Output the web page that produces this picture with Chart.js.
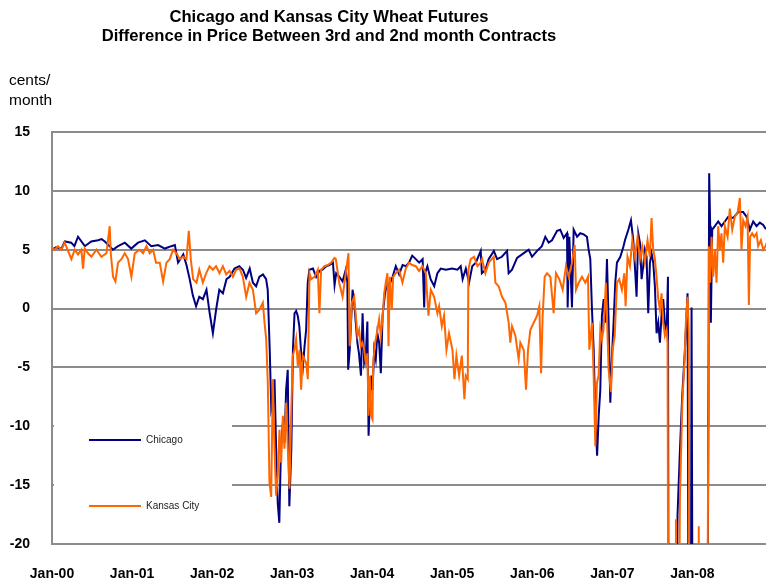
<!DOCTYPE html>
<html>
<head>
<meta charset="utf-8">
<title>Chicago and Kansas City Wheat Futures</title>
<script src="https://cdn.jsdelivr.net/npm/chart.js@4.4.1/dist/chart.umd.min.js"></script>
<style>
  html, body { margin: 0; padding: 0; background: #fff; }
  #wrap { width: 766px; height: 581px; }
</style>
</head>
<body>
<div id="wrap"><canvas id="spreadChart" width="766" height="581"></canvas></div>
<script>
// x = years since Jan 2000, y = 3rd minus 2nd month contract, cents/month
// (-30 = off the bottom of the scale)
const chicagoYears = [
  0.00, 0.05, 0.12, 0.16, 0.24, 0.28, 0.325, 0.41, 0.49, 0.575, 0.62, 0.66, 0.72, 0.76, 0.825, 0.91, 0.99,
  1.075, 1.16, 1.24, 1.325, 1.41, 1.49, 1.535, 1.575, 1.64, 1.68, 1.72, 1.76, 1.80, 1.84, 1.885, 1.93, 1.97,
  2.01, 2.05, 2.09, 2.135, 2.18, 2.22, 2.28, 2.34, 2.385, 2.425, 2.47, 2.51, 2.55, 2.59, 2.635, 2.675, 2.695,
  2.72, 2.74, 2.76, 2.78, 2.80, 2.82, 2.84, 2.86, 2.885, 2.905, 2.925, 2.945, 2.965, 2.99,
  3.01, 3.03, 3.05, 3.07, 3.09, 3.11, 3.135, 3.155, 3.175, 3.195, 3.215, 3.26, 3.30, 3.34, 3.38, 3.425, 3.465,
  3.51, 3.53, 3.55, 3.59, 3.63, 3.67, 3.69, 3.70, 3.72, 3.755, 3.775, 3.795, 3.815, 3.835, 3.86, 3.88, 3.90,
  3.92, 3.94, 3.955, 3.97, 3.99, 4.005, 4.025, 4.045, 4.065, 4.087, 4.108, 4.13, 4.16, 4.19, 4.21, 4.255,
  4.295, 4.337, 4.38, 4.42, 4.46, 4.50, 4.545, 4.587, 4.63, 4.65, 4.66, 4.69, 4.73, 4.775, 4.815, 4.857,
  4.92, 5.00, 5.065, 5.106, 5.13, 5.17, 5.21, 5.25, 5.295, 5.356, 5.37, 5.415, 5.455, 5.52, 5.56, 5.62,
  5.685, 5.705, 5.747, 5.81, 5.872, 5.955, 5.997, 6.06, 6.12, 6.163, 6.205, 6.246, 6.31, 6.35, 6.392,
  6.434, 6.442, 6.463, 6.496, 6.517, 6.56, 6.60, 6.642, 6.683, 6.704, 6.725, 6.746, 6.767, 6.788, 6.81,
  6.83, 6.85, 6.87, 6.892, 6.912, 6.933, 6.954, 6.975, 6.996, 7.016, 7.037, 7.058, 7.10, 7.14,
  7.158, 7.20, 7.233, 7.262, 7.282, 7.303, 7.324, 7.345, 7.366, 7.386, 7.407, 7.428, 7.449, 7.47, 7.49,
  7.511, 7.532, 7.553, 7.574, 7.595, 7.615, 7.636, 7.657, 7.678, 7.695, 7.703, 7.80, 7.815, 7.845, 7.873,
  7.907, 7.94, 7.953, 7.982, 7.99, 8.003, 8.19, 8.21, 8.223, 8.231, 8.248, 8.281, 8.323, 8.364, 8.406,
  8.448, 8.51, 8.573, 8.635, 8.677, 8.718, 8.76, 8.802, 8.843, 8.885, 8.914, 8.93
];
const chicagoSpread = [
  5.0, 5.2, 5.1, 5.7, 5.6, 5.3, 6.1, 5.3, 5.7, 5.8, 5.9, 5.7, 5.3, 5.0, 5.3, 5.6, 5.1,
  5.6, 5.8, 5.3, 5.4, 5.1, 5.3, 5.4, 3.9, 4.6, 3.7, 2.5, 1.1, 0.2, 1.0, 0.8, 1.6, -0.4,
  -2.1, -0.1, 1.6, 1.3, 2.5, 2.7, 3.4, 3.6, 3.3, 2.6, 3.4, 2.2, 1.9, 2.7, 2.9, 2.5, 1.6,
  -3.5, -8.6, -8.0, -6.0, -11.9, -16.5, -18.2, -11.9, -9.7, -11.4, -6.9, -5.2, -16.8, -11.9,
  -3.5, -0.4, -0.2, -0.6, -1.5, -3.5, -4.9, -3.2, -1.8, 2.2, 3.3, 3.4, 2.7, 3.2, 3.3, 3.6, 3.7,
  3.9, 2.0, 3.0, 2.7, 2.3, 3.3, 2.2, -5.2, -3.5, 1.6, 0.5, -1.2, -2.9, -3.8, -5.7, -0.4, -4.6,
  -4.0, -1.1, -10.8, -8.0, -5.7, -6.9, -3.5, -4.3, -2.1, -2.9, -5.5, -0.6, 1.3, 2.2, 1.9, 2.7,
  3.6, 2.9, 3.7, 3.6, 3.9, 4.5, 4.2, 3.9, 4.2, 0.1, 3.0, 3.6, 2.5, 1.9, 3.0, 3.4,
  3.3, 3.4, 3.3, 3.6, 2.5, 3.4, 2.2, 3.6, 3.9, 4.9, 3.0, 3.3, 4.2, 4.9, 4.2, 4.4,
  4.9, 3.0, 3.3, 4.3, 4.6, 5.0, 4.4, 4.9, 5.3, 6.1, 5.6, 5.8, 6.6, 6.7, 6.0,
  6.4, 0.1, 6.1, 0.1, 6.7, 6.1, 6.4, 6.3, 6.1, 5.0, 4.2, -0.1, -3.5, -9.1, -12.5,
  -9.1, -6.9, -0.6, 0.8, -1.2, 4.2, -1.2, -8.0, -4.0, -1.2, 2.2, 3.9, 4.4, 5.3,
  5.8, 6.7, 7.5, 5.8, 3.6, 1.0, 6.4, 5.6, 2.5, 3.6, 5.0, 4.4, -0.4, 3.9, 4.7,
  3.9, 1.9, -2.1, -1.2, -2.9, -0.6, 0.8, -1.2, -2.3, 2.7, -30, -30, -17.5, -12.0, -7.5,
  -3.5, 1.3, -30, -30, 0.1, -30, -30, 11.5, 7.0, -1.2, 6.7, 7.0, 7.4, 7.0, 7.4,
  7.8, 7.7, 8.2, 8.2, 7.8, 6.7, 7.4, 7.0, 7.3, 7.1, 6.8, 6.8
];

const kansasYears = [
  0.00, 0.034, 0.075, 0.117, 0.159, 0.20, 0.242, 0.284, 0.325, 0.367, 0.388, 0.409, 0.45, 0.492, 0.555,
  0.617, 0.68, 0.721, 0.734, 0.763, 0.792, 0.825, 0.867, 0.909, 0.95, 0.992, 1.034, 1.096, 1.138, 1.18,
  1.221, 1.263, 1.30, 1.346, 1.388, 1.43, 1.471, 1.513, 1.555, 1.596, 1.638, 1.68, 1.709, 1.734, 1.763,
  1.805, 1.84, 1.885, 1.926, 1.968, 2.01, 2.05, 2.093, 2.135, 2.176, 2.218, 2.26, 2.30, 2.343, 2.384,
  2.426, 2.467, 2.51, 2.55, 2.592, 2.634, 2.655, 2.676, 2.696, 2.717, 2.738, 2.759, 2.78, 2.80, 2.821,
  2.842, 2.863, 2.884, 2.904, 2.925, 2.946, 2.967, 2.988, 3.008, 3.029, 3.05, 3.071, 3.092, 3.112, 3.133,
  3.175, 3.196, 3.217, 3.238, 3.28, 3.32, 3.341, 3.362, 3.404, 3.445, 3.487, 3.529, 3.546, 3.588, 3.63,
  3.67, 3.704, 3.72, 3.746, 3.775, 3.796, 3.816, 3.837, 3.858, 3.879, 3.90, 3.92, 3.941, 3.954, 3.97,
  3.987, 4.004, 4.012, 4.037, 4.066, 4.087, 4.108, 4.129, 4.15, 4.17, 4.19, 4.204, 4.22, 4.245, 4.262,
  4.295, 4.337, 4.378, 4.42, 4.46, 4.50, 4.545, 4.586, 4.628, 4.67, 4.703, 4.732, 4.774, 4.815, 4.836,
  4.87, 4.898, 4.928, 4.96, 5.003, 5.028, 5.052, 5.086, 5.12, 5.152, 5.169, 5.194, 5.202, 5.231, 5.273,
  5.315, 5.356, 5.373, 5.414, 5.456, 5.518, 5.539, 5.58, 5.622, 5.664, 5.705, 5.726, 5.747, 5.789, 5.83,
  5.851, 5.893, 5.922, 5.947, 5.976, 6.018, 6.06, 6.088, 6.11, 6.13, 6.155, 6.184, 6.226, 6.267, 6.296,
  6.338, 6.38, 6.421, 6.455, 6.496, 6.53, 6.546, 6.58, 6.621, 6.663, 6.696, 6.713, 6.746, 6.767, 6.788,
  6.808, 6.829, 6.85, 6.87, 6.89, 6.92, 6.954, 6.983, 7.004, 7.03, 7.058, 7.087, 7.12, 7.15, 7.166,
  7.19, 7.22, 7.25, 7.282, 7.316, 7.345, 7.374, 7.407, 7.44, 7.47, 7.49, 7.511, 7.532, 7.553, 7.574,
  7.595, 7.615, 7.636, 7.657, 7.678, 7.69, 7.70, 7.785, 7.795, 7.805, 7.83, 7.845, 7.86, 7.875, 7.89,
  7.905, 7.92, 7.94, 7.955, 7.96, 8.075, 8.08, 8.085, 8.185, 8.20, 8.206, 8.223, 8.24, 8.26, 8.281,
  8.302, 8.323, 8.344, 8.364, 8.385, 8.406, 8.44, 8.468, 8.498, 8.53, 8.564, 8.593, 8.614, 8.635, 8.664,
  8.69, 8.706, 8.722, 8.747, 8.772, 8.802, 8.822, 8.856, 8.885, 8.914, 8.93
];
const kansasSpread = [
  5.1, 5.0, 5.3, 5.0, 5.6, 4.9, 4.2, 5.0, 4.6, 5.0, 3.4, 5.1, 4.7, 4.4, 5.0,
  4.4, 4.7, 7.0, 4.7, 2.7, 2.3, 3.9, 4.2, 4.7, 4.2, 2.7, 4.7, 5.0, 4.7, 5.3,
  4.7, 5.0, 3.9, 3.9, 2.3, 3.9, 4.2, 5.0, 4.7, 4.2, 4.4, 4.2, 6.6, 4.2, 2.5,
  2.2, 3.3, 2.2, 3.0, 3.6, 3.3, 3.6, 3.0, 3.6, 2.9, 3.2, 2.7, 3.3, 3.4, 2.7,
  1.0, 2.2, 1.6, -0.4, -0.1, 0.5, -1.2, -2.6, -6.3, -14.8, -16.0, -6.0, -11.9, -15.9, -14.2,
  -10.3, -13.1, -9.1, -11.9, -8.0, -11.9, -15.3, -9.1, -4.0, -3.5, -2.6, -4.9, -3.5, -6.9, -4.0,
  -4.6, -6.0, 3.0, 2.5, 2.7, 3.3, -0.4, 3.3, 3.6, 3.7, 3.9, 4.3, 4.2, 2.2, 1.0,
  3.0, 4.7, -3.2, 0.5, 1.0, -0.6, -2.3, -1.8, -3.2, -2.9, -3.5, -4.6, -3.8, -9.1, -5.7,
  -9.1, -9.4, -4.6, -2.9, -1.8, -0.9, -2.3, -0.9, 1.3, 2.2, 3.0, -3.2, 2.7, -0.1, 2.7,
  3.0, 3.3, 2.2, 3.4, 3.9, 3.7, 3.6, 3.2, 3.6, 3.0, -0.6, 1.6, 1.0, -0.4, 0.2,
  -1.5, -0.6, -3.5, -2.1, -3.5, -6.0, -4.0, -5.7, -4.0, -7.7, -5.7, -6.0, 3.3, 4.2, 4.4,
  3.6, 3.9, 4.2, 3.0, 3.9, 4.4, 2.2, 1.9, 1.0, 0.5, -1.2, -2.9, -1.5, -2.3, -4.3,
  -2.9, -3.5, -6.9, -3.5, -1.8, -1.2, -0.6, 0.2, -5.5, -0.6, 2.7, 3.0, 2.7, -0.4, 3.0,
  2.5, 1.6, 3.6, 2.7, 3.9, 5.4, 1.6, 2.2, 2.7, 2.2, 2.7, -3.5, -1.2, -5.7, -11.7,
  -6.3, -5.7, -1.8, -2.6, -1.8, 2.2, -5.2, -7.1, -3.5, -2.3, 2.2, 2.5, 1.6, 3.0, 0.2,
  4.4, 3.6, 5.8, 4.4, 6.1, 4.2, 5.3, 3.9, 5.8, 4.4, 7.7, 5.0, 4.2, 2.7, 0.8,
  -0.1, 1.3, -1.2, -2.3, -1.8, -2.9, -30, -30, -17.9, -30, -30, -16.0, -12.0, -8.0, -6.0,
  -4.0, -1.0, 1.0, -2.0, -30, -30, -18.5, -30, -30, -10.0, 5.3, 2.2, 6.1, 2.7, 5.0,
  2.2, 7.0, 5.0, 6.4, 3.9, 7.0, 6.1, 8.5, 6.7, 7.8, 8.1, 9.4, 5.0, 7.5, 7.0,
  7.8, 0.3, 6.1, 6.4, 6.1, 6.4, 5.3, 5.8, 5.0, 5.3, 5.6
];

const yearTicks = ['Jan-00', 'Jan-01', 'Jan-02', 'Jan-03', 'Jan-04', 'Jan-05', 'Jan-06', 'Jan-07', 'Jan-08'];
const seriesNames = ['Chicago', 'Kansas City'];
const seriesColors = ['#000080', '#ff6600'];

const FONT = 'Arial, "Liberation Sans", Helvetica, sans-serif';
const GRID = '#8c8c8c';

function toPoints(xs, ys) {
  return xs.map((x, i) => ({ x: x, y: ys[i] }));
}

// titles and the unit label sit outside the plot area
const headerText = {
  id: 'headerText',
  afterDraw(chart) {
    const ctx = chart.ctx;
    ctx.save();
    ctx.fillStyle = '#000';
    ctx.textAlign = 'center';
    ctx.textBaseline = 'middle';
    ctx.font = 'bold 16.6px ' + FONT;
    ctx.fillText('Chicago and Kansas City Wheat Futures', 329, 17);
    ctx.fillText('Difference in Price Between 3rd and 2nd month Contracts', 329, 36);
    ctx.textAlign = 'left';
    ctx.font = '15.5px ' + FONT;
    ctx.fillText('cents/', 9, 81);
    ctx.fillText('month', 9, 101);
    ctx.restore();
  }
};

// legend box drawn inside the plot, covering the grid lines behind it
const innerLegend = {
  id: 'innerLegend',
  beforeDatasetsDraw(chart) {
    const ctx = chart.ctx;
    ctx.save();
    ctx.fillStyle = '#fff';
    ctx.fillRect(chart.chartArea.left + 2, 405, 232 - chart.chartArea.left - 2, 110);
    ctx.restore();
  },
  afterDatasetsDraw(chart) {
    const ctx = chart.ctx;
    const rows = [440, 506];
    ctx.save();
    ctx.font = '10px ' + FONT;
    ctx.textBaseline = 'middle';
    ctx.textAlign = 'left';
    rows.forEach((y, i) => {
      ctx.strokeStyle = seriesColors[i];
      ctx.lineWidth = 2;
      ctx.beginPath();
      ctx.moveTo(89, y);
      ctx.lineTo(141, y);
      ctx.stroke();
      ctx.fillStyle = '#222';
      ctx.fillText(seriesNames[i], 146, y);
    });
    ctx.restore();
  }
};

new Chart(document.getElementById('spreadChart'), {
  type: 'line',
  data: {
    datasets: [
      {
        label: seriesNames[0],
        data: toPoints(chicagoYears, chicagoSpread),
        borderColor: seriesColors[0],
        borderWidth: 2,
        pointRadius: 0,
        tension: 0,
        order: 2
      },
      {
        label: seriesNames[1],
        data: toPoints(kansasYears, kansasSpread),
        borderColor: seriesColors[1],
        borderWidth: 2,
        pointRadius: 0,
        tension: 0,
        order: 1
      }
    ]
  },
  options: {
    responsive: false,
    animation: false,
    layout: { padding: { top: 132, right: 0, bottom: 0, left: 0 } },
    plugins: {
      legend: { display: false },
      title: { display: false },
      tooltip: { enabled: false }
    },
    scales: {
      x: {
        type: 'linear',
        min: 0,
        max: 8.92,
        afterFit(scale) { scale.height = 37; },
        afterBuildTicks(scale) {
          scale.ticks = yearTicks.map((_, i) => ({ value: i }));
        },
        grid: { display: false, drawTicks: false },
        border: { display: true, color: GRID, width: 2 },
        ticks: {
          autoSkip: false,
          maxRotation: 0,
          padding: 22,
          color: '#000',
          font: { family: FONT, size: 14, weight: 'bold' },
          callback: (v) => yearTicks[v] || ''
        }
      },
      y: {
        min: -20,
        max: 15,
        afterFit(scale) { scale.width = 52; },
        grid: { color: GRID, lineWidth: 2, drawTicks: false },
        border: { display: true, color: GRID, width: 2 },
        ticks: {
          stepSize: 5,
          padding: 22,
          color: '#000',
          font: { family: FONT, size: 14, weight: 'bold' }
        }
      }
    }
  },
  plugins: [headerText, innerLegend]
});
</script>
</body>
</html>
